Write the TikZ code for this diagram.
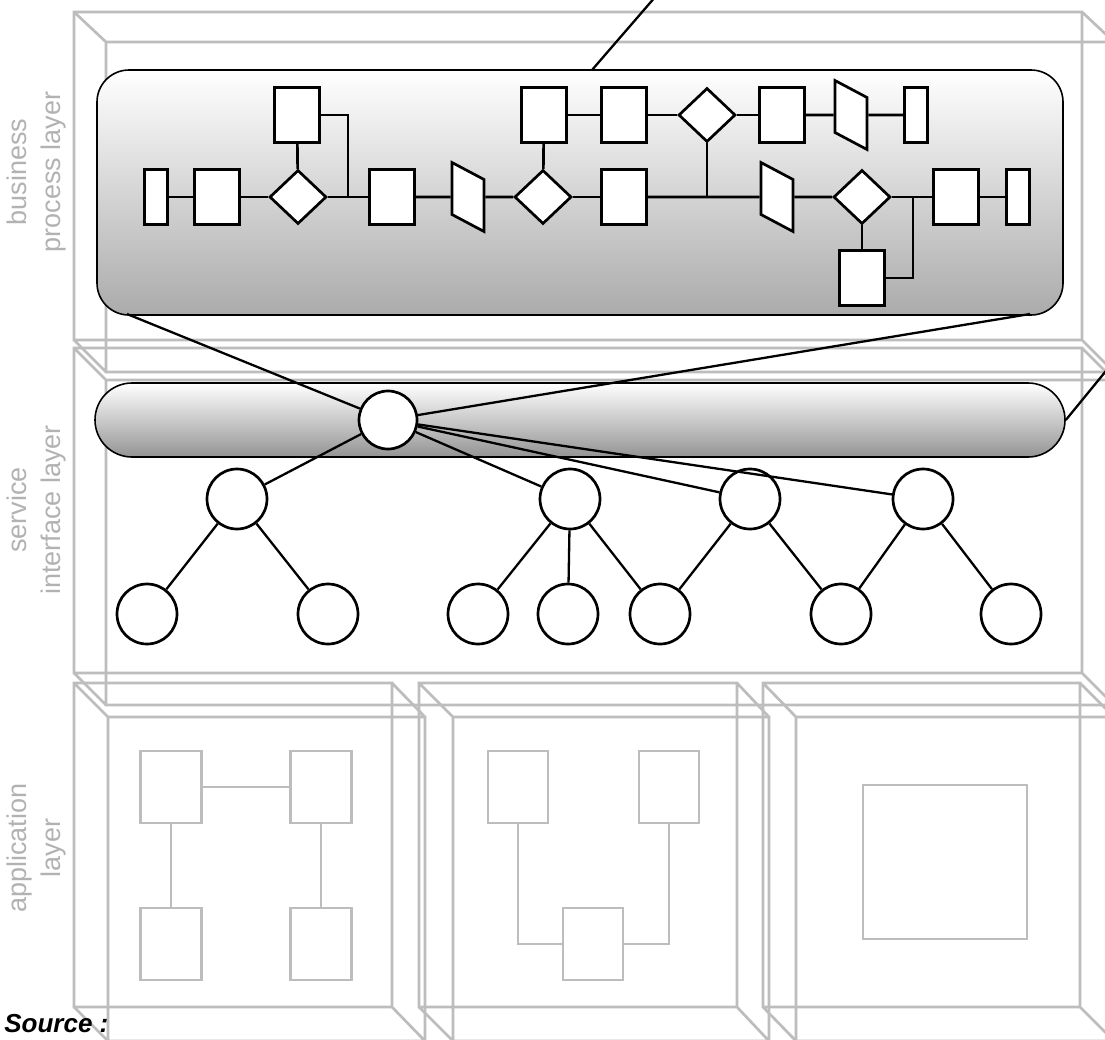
\documentclass[tikz,border=0pt]{standalone}
\usepackage{fontspec}
\setmainfont{Liberation Sans}
\usetikzlibrary{shapes.geometric}
\definecolor{boxgray}{gray}{0.74}
\definecolor{labelgray}{gray}{0.70}
\begin{document}
\begin{tikzpicture}[x=1pt, y=-1pt, line width=2.7pt,
task node/.style={rectangle,draw,fill=white,minimum width=45pt,minimum height=55pt,inner sep=0pt},
end node/.style={rectangle,draw,fill=white,minimum width=23pt,minimum height=55pt,inner sep=0pt},
gate node/.style={diamond,draw,fill=white,minimum width=57pt,minimum height=54pt,inner sep=0pt},
data node/.style={rectangle,draw,fill=white,minimum width=32pt,minimum height=52pt,inner sep=0pt,yslant=-0.53},
svc node/.style={circle,draw,fill=white,minimum size=60pt,inner sep=0pt},
app node/.style={rectangle,draw=boxgray,line width=2.6pt,fill=white,minimum width=61pt,minimum height=72pt,inner sep=0pt},
app link/.style={draw=boxgray,line width=2.6pt},
layer label/.style={rotate=90,align=center,text=labelgray,font=\fontsize{27}{34}\selectfont},
frame/.style={draw=boxgray,line width=2.7pt}]
\fill[white] (0,0) rectangle (1105,1039);
\useasboundingbox (0,0) rectangle (1105,1039);
% layer boxes
\begin{scope}[frame]
\draw (74,12) rectangle (1082,340) (106,42) rectangle (1114,372)
  (74,12) -- (106,42) (1082,12) -- (1114,42) (74,340) -- (106,372) (1082,340) -- (1114,372);
\draw (74,348) rectangle (1082,673) (106,380) rectangle (1114,705)
  (74,348) -- (106,380) (1082,348) -- (1114,380) (74,673) -- (106,705) (1082,673) -- (1114,705);
\draw (74,683) rectangle (392,1007) (108,717) rectangle (425,1041)
  (74,683) -- (108,717) (392,683) -- (425,717) (74,1007) -- (108,1041) (392,1007) -- (425,1041);
\draw (419,683) rectangle (737,1007) (453,717) rectangle (769,1041)
  (419,683) -- (453,717) (737,683) -- (769,717) (419,1007) -- (453,1041) (737,1007) -- (769,1041);
\draw (763,683) rectangle (1080,1007) (796,717) rectangle (1114,1041)
  (763,683) -- (796,717) (1080,683) -- (1114,717) (763,1007) -- (796,1041) (1080,1007) -- (1114,1041);
\end{scope}
% layer names
\node[layer label] (lbbp) at (37,172) {business\\process layer};
\node[layer label] (lbsv) at (37,510) {service\\interface layer};
\node[layer label] (lbap) at (37,848) {application\\layer};
\node[anchor=base west,inner sep=0pt,font=\fontsize{26}{30}\selectfont\bfseries\itshape] (src) at (3,1032) {Source :};
% the two bands
\node[draw,line width=1.6pt,rounded corners=32pt,top color=white,middle color=black!8,bottom color=black!33,minimum width=966pt,minimum height=245pt] (bp) at (580,192.5) {};
\node[draw,line width=1.6pt,rounded corners=37pt,top color=white,middle color=black!10,bottom color=black!42,minimum width=970pt,minimum height=74pt] (sv) at (580,420) {};
\coordinate (bpt) at (592,70);
\coordinate (bpout) at (656,-4);
\coordinate (bpl) at (127,314);
\coordinate (bpr) at (1030,314);
\coordinate (svout) at (1110,366);
\coordinate (jn1) at (348,197);
\coordinate (jn2) at (913,197);
\coordinate (jn3) at (707,197);
% business process
\node[end node] (s1) at (156,197) {};
\node[task node] (r1) at (217,197) {};
\node[gate node] (d1) at (298,197) {};
\node[task node] (r5) at (297,115) {};
\node[task node] (r2) at (392,197) {};
\node[data node] (p1) at (468,197) {};
\node[gate node] (d2) at (543,197) {};
\node[task node] (r6) at (544,115) {};
\node[task node] (r3) at (624,197) {};
\node[task node] (r7) at (624,115) {};
\node[gate node] (d4) at (707,115) {};
\node[task node] (r8) at (782,115) {};
\node[data node] (p3) at (851,115) {};
\node[end node] (s3) at (916,115) {};
\node[data node] (p2) at (777,197) {};
\node[gate node] (d3) at (862,197) {};
\node[task node] (r9) at (862,278) {};
\node[task node] (r4) at (956,197) {};
\node[end node] (s2) at (1018,197) {};
%\node[task node] (r) at (,) {};
% services
\node[svc node,minimum size=58pt] (root) at (388,420) {};
\node[svc node] (c1) at (237,499) {};
\node[svc node] (c2) at (570,499) {};
\node[svc node] (c3) at (750,499) {};
\node[svc node] (c4) at (923,499) {};
\node[svc node] (l1) at (147,614) {};
\node[svc node] (l2) at (328,614) {};
\node[svc node] (l3) at (478,614) {};
\node[svc node] (l4) at (568,614) {};
\node[svc node] (l5) at (660,614) {};
\node[svc node] (l6) at (841,614) {};
\node[svc node] (l7) at (1011,614) {};
% applications
\node[app node] (a1) at (171,787) {};
\node[app node] (a2) at (321,787) {};
\node[app node] (a3) at (171,944) {};
\node[app node] (a4) at (321,944) {};
\node[app node,minimum width=60pt] (b1) at (518,787) {};
\node[app node,minimum width=60pt] (b2) at (669,787) {};
\node[app node,minimum width=60pt] (b3) at (593,944) {};
\node[app node,minimum width=164pt,minimum height=154pt] (bigapp) at (945,862) {};
\begin{scope}
\draw (s1) edge node{} (r1);
\draw (r1) edge node{} (d1);
\draw (d1) edge node{} (r2);
\draw (d1) edge node{} (r5);
\draw (r5) -| (jn1);
\draw (r2) edge node{} (p1);
\draw (p1) edge node{} (d2);
\draw (d2) edge node{} (r6);
\draw (d2) edge node{} (r3);
\draw (r3) edge node{} (p2);
\draw (r6) edge node{} (r7);
\draw (r7) edge node{} (d4);
\draw (d4) edge node{} (r8);
\draw (d4) edge node{} (jn3);
\draw (r8) edge node{} (p3);
\draw (p3) edge node{} (s3);
\draw (p2) edge node{} (d3);
\draw (d3) edge node{} (r4);
\draw (d3) edge node{} (r9);
\draw (r9) -| (jn2);
\draw (r4) edge node{} (s2);
%\draw (r) edge node{} (r);
\end{scope}
\begin{scope}[line width=2.3pt]
\draw (bpt) -- (bpout);
\draw (bpl) -- (root);
\draw (bpr) -- (root);
\draw (sv.east) -- (svout);
\draw (root) edge node{} (c1);
\draw (root) edge node{} (c2);
\draw (root) edge node{} (c3);
\draw (root) edge node{} (c4);
\draw (c1) edge node{} (l1);
\draw (c1) edge node{} (l2);
\draw (c2) edge node{} (l3);
\draw (c2) edge node{} (l4);
\draw (c2) edge node{} (l5);
\draw (c3) edge node{} (l5);
\draw (c3) edge node{} (l6);
\draw (c4) edge node{} (l6);
\draw (c4) edge node{} (l7);
\end{scope}
\begin{scope}[app link]
\draw (a1) -- (a2);
\draw (a1) -- (a3);
\draw (a2) -- (a4);
\draw (b1) |- (b3);
\draw (b2) |- (b3);
\end{scope}
\end{tikzpicture}
\end{document}
